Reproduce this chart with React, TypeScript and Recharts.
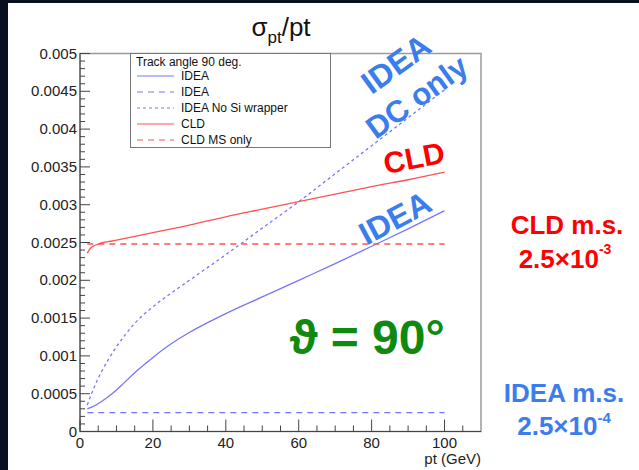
import React from "react";
import { LineChart, Line, XAxis, YAxis, ReferenceArea, Legend } from "recharts";

// Values (sigma_pt / pt vs pt in GeV).
const IDEA_PT = [2, 4, 6, 8, 10, 12, 14, 16, 18, 20, 25, 30, 35, 40, 50, 60, 70, 80, 90, 100];
const IDEA_SIGMA = [
  0.0003, 0.00034, 0.0004, 0.00047, 0.00055, 0.00064, 0.00073, 0.00082, 0.0009, 0.00098, 0.00116,
  0.00131, 0.00144, 0.00156, 0.00178, 0.002, 0.00222, 0.00245, 0.00268, 0.00292,
];

const IDEA_MS_PT = [2, 100];
const IDEA_MS_SIGMA = [0.00025, 0.00025];

const IDEA_NOSI_PT = [2, 4, 6, 8, 10, 15, 20, 25, 30, 40, 50, 60, 70, 80, 90, 100];
const IDEA_NOSI_SIGMA = [
  0.00035, 0.0006, 0.0008, 0.00097, 0.00112, 0.00143, 0.00165, 0.00183, 0.002, 0.00234, 0.00269,
  0.00304, 0.00341, 0.00378, 0.00415, 0.00452,
];

const CLD_PT = [2, 2.5, 3, 4, 5, 10, 20, 30, 40, 50, 60, 70, 80, 90, 100];
const CLD_SIGMA = [
  0.00236, 0.0024, 0.00243, 0.00246, 0.00248, 0.00253, 0.00263, 0.00273, 0.00284, 0.00294, 0.00304,
  0.00314, 0.00324, 0.00333, 0.00343,
];

const CLD_MS_PT = [2, 100];
const CLD_MS_SIGMA = [0.00248, 0.00248];

const LEGEND_TITLE = "Track angle 90 deg.";

// Axis ticks (ROOT style: majors labelled, minors unlabelled)
const X_TICKS = [0, 5, 10, 15, 20, 25, 30, 35, 40, 45, 50, 55, 60, 65, 70, 75, 80, 85, 90, 95, 100, 105];
const X_MAJOR = [0, 20, 40, 60, 80, 100];
const Y_MAJOR = [0, 0.0005, 0.001, 0.0015, 0.002, 0.0025, 0.003, 0.0035, 0.004, 0.0045, 0.005];
const Y_LABELS = ["0", "0.0005", "0.001", "0.0015", "0.002", "0.0025", "0.003", "0.0035", "0.004", "0.0045", "0.005"];
const Y_TICKS = Array.from({ length: 51 }, (_, i) => +(i * 0.0001).toFixed(4));

const BLUE_LINE = "#7676fa";
const RED_LINE = "#ff5252";
const BLUE_TXT = "#3b7ded";
const RED_TXT = "#ff0000";
const GREEN_TXT = "#0f8a0f";
const FONT = '"Liberation Sans", Arial, Helvetica, sans-serif';

const toPoints = (pt: number[], v: number[]) => pt.map((p, i) => ({ pt: p, v: v[i] }));

const SERIES = [
  { key: "idea", name: "IDEA", data: toPoints(IDEA_PT, IDEA_SIGMA), color: BLUE_LINE, dash: undefined },
  { key: "ideaMs", name: "IDEA", data: toPoints(IDEA_MS_PT, IDEA_MS_SIGMA), color: BLUE_LINE, dash: "6 5" },
  { key: "ideaNoSi", name: "IDEA No Si wrapper", data: toPoints(IDEA_NOSI_PT, IDEA_NOSI_SIGMA), color: BLUE_LINE, dash: "3 3" },
  { key: "cld", name: "CLD", data: toPoints(CLD_PT, CLD_SIGMA), color: RED_LINE, dash: undefined },
  { key: "cldMs", name: "CLD MS only", data: toPoints(CLD_MS_PT, CLD_MS_SIGMA), color: RED_LINE, dash: "6 5" },
];

const YTick = (props: any) => {
  const { x, y, payload } = props;
  const idx = Y_MAJOR.findIndex((v) => Math.abs(v - payload.value) < 1e-9);
  const major = idx >= 0;
  return (
    <g>
      <line x1={x} x2={x + (major ? 10 : 5)} y1={y} y2={y} stroke="#444" />
      {major && (
        <text x={x - 3} y={y + 5} textAnchor="end" fontSize={15} fill="#222" fontFamily={FONT}>
          {Y_LABELS[idx]}
        </text>
      )}
    </g>
  );
};

const XTick = (props: any) => {
  const { x, y, payload } = props;
  const major = X_MAJOR.includes(payload.value);
  return (
    <g>
      <line x1={x} x2={x} y1={y} y2={y - (major ? 12 : 6)} stroke="#444" />
      {major && (
        <text x={x} y={y + 16} textAnchor="middle" fontSize={15} fill="#222" fontFamily={FONT}>
          {payload.value}
        </text>
      )}
    </g>
  );
};

const renderLegend = () => (
  <div
    style={{
      position: "relative",
      width: 201,
      height: 95,
      boxSizing: "border-box",
      border: "1px solid #777",
      background: "#fff",
      fontFamily: FONT,
      fontSize: 12,
      color: "#111",
    }}
  >
    <div style={{ position: "absolute", left: 5, top: 1, lineHeight: "15px" }}>{LEGEND_TITLE}</div>
    {SERIES.map((s, i) => (
      <div key={s.key} style={{ position: "absolute", left: 6, top: 14 + i * 16, height: 16, display: "flex", alignItems: "center" }}>
        <svg width={37} height={4} style={{ marginRight: 7 }}>
          <line x1={0} x2={37} y1={2} y2={2} stroke={s.color} strokeWidth={1.2} strokeDasharray={s.dash} />
        </svg>
        <span>{s.name}</span>
      </div>
    ))}
  </div>
);

export default function App() {
  const YW = 70;
  const XH = 30;
  return (
    <div style={{ position: "fixed", left: 0, top: 0, width: 639, height: 470, background: "#07101f", overflow: "hidden" }}>
      <div style={{ position: "absolute", left: 8, top: 3, right: 0, bottom: 0, background: "#fff" }} />
      <div style={{ position: "absolute", left: 0, top: 0 }}>
        <LineChart
          width={639}
          height={470}
          margin={{ top: 53.5, right: 158, bottom: 470 - 431.5 - XH, left: 80 - YW }}
        >
          <ReferenceArea x1={0} x2={110} y1={0} y2={0.005} fill="none" stroke="#9a9a9a" strokeWidth={1.5} />
          <XAxis
            type="number"
            dataKey="pt"
            domain={[0, 110]}
            ticks={X_TICKS}
            interval={0}
            height={XH}
            tickSize={0}
            tickMargin={0}
            tick={XTick}
            axisLine={{ stroke: "#444" }}
            tickLine={false}
            allowDataOverflow
            label={{
              content: (p: any) => {
                const vb = p.viewBox;
                return (
                  <text x={vb.x + vb.width} y={vb.y + 32} textAnchor="end" fontSize={15} fill="#222" fontFamily={FONT}>
                    pt (GeV)
                  </text>
                );
              },
            }}
          />
          <YAxis
            type="number"
            dataKey="v"
            domain={[0, 0.005]}
            ticks={Y_TICKS}
            interval={0}
            width={YW}
            tickSize={0}
            tickMargin={0}
            tick={YTick}
            axisLine={{ stroke: "#444" }}
            tickLine={false}
            allowDataOverflow
          />
          <Legend layout="vertical" align="center" verticalAlign="middle" content={renderLegend} wrapperStyle={{ left: 130, top: 53, width: 201, height: 95 }} />
          {SERIES.map((s) => (
            <Line
              key={s.key}
              data={s.data}
              dataKey="v"
              name={s.name}
              type="monotone"
              stroke={s.color}
              strokeWidth={1.3}
              strokeDasharray={s.dash}
              dot={false}
              activeDot={false}
              isAnimationActive={false}
            />
          ))}
        </LineChart>
      </div>
      <svg width={639} height={470} style={{ position: "absolute", left: 0, top: 0, pointerEvents: "none" }} fontFamily={FONT}>
        <text x={281} y={36} textAnchor="middle" fontSize={26} fill="#111">
          σ<tspan fontSize={17} dy={7}>pt</tspan>
          <tspan dy={-7}>/pt</tspan>
        </text>
        <text x={396} y={64} transform="rotate(-36 396 64)" textAnchor="middle" dominantBaseline="central" fontSize={32} fontWeight="bold" fill={BLUE_TXT}>
          IDEA
        </text>
        <text x={417} y={97} transform="rotate(-36 417 97)" textAnchor="middle" dominantBaseline="central" fontSize={31} fontWeight="bold" fill={BLUE_TXT}>
          DC only
        </text>
        <text x={414} y={158} transform="rotate(-11 414 158)" textAnchor="middle" dominantBaseline="central" fontSize={30} fontWeight="bold" fill={RED_TXT}>
          CLD
        </text>
        <text x={395} y={218} transform="rotate(-28 395 218)" textAnchor="middle" dominantBaseline="central" fontSize={32} fontWeight="bold" fill={BLUE_TXT}>
          IDEA
        </text>
        <text x={367} y={337} textAnchor="middle" dominantBaseline="central" fontSize={48} fontWeight="bold" fill={GREEN_TXT}>
          ϑ = 90°
        </text>
        <text x={567} y={225} textAnchor="middle" dominantBaseline="central" fontSize={26} fontWeight="bold" fill={RED_TXT}>
          CLD m.s.
        </text>
        <text x={565} y={259} textAnchor="middle" dominantBaseline="central" fontSize={26} fontWeight="bold" fill={RED_TXT}>
          2.5×10<tspan fontSize={14} dy={-10}>-3</tspan>
        </text>
        <text x={564} y={393} textAnchor="middle" dominantBaseline="central" fontSize={26} fontWeight="bold" fill={BLUE_TXT}>
          IDEA m.s.
        </text>
        <text x={564} y={426} textAnchor="middle" dominantBaseline="central" fontSize={26} fontWeight="bold" fill={BLUE_TXT}>
          2.5×10<tspan fontSize={15} dy={-9}>-4</tspan>
        </text>
      </svg>
    </div>
  );
}
